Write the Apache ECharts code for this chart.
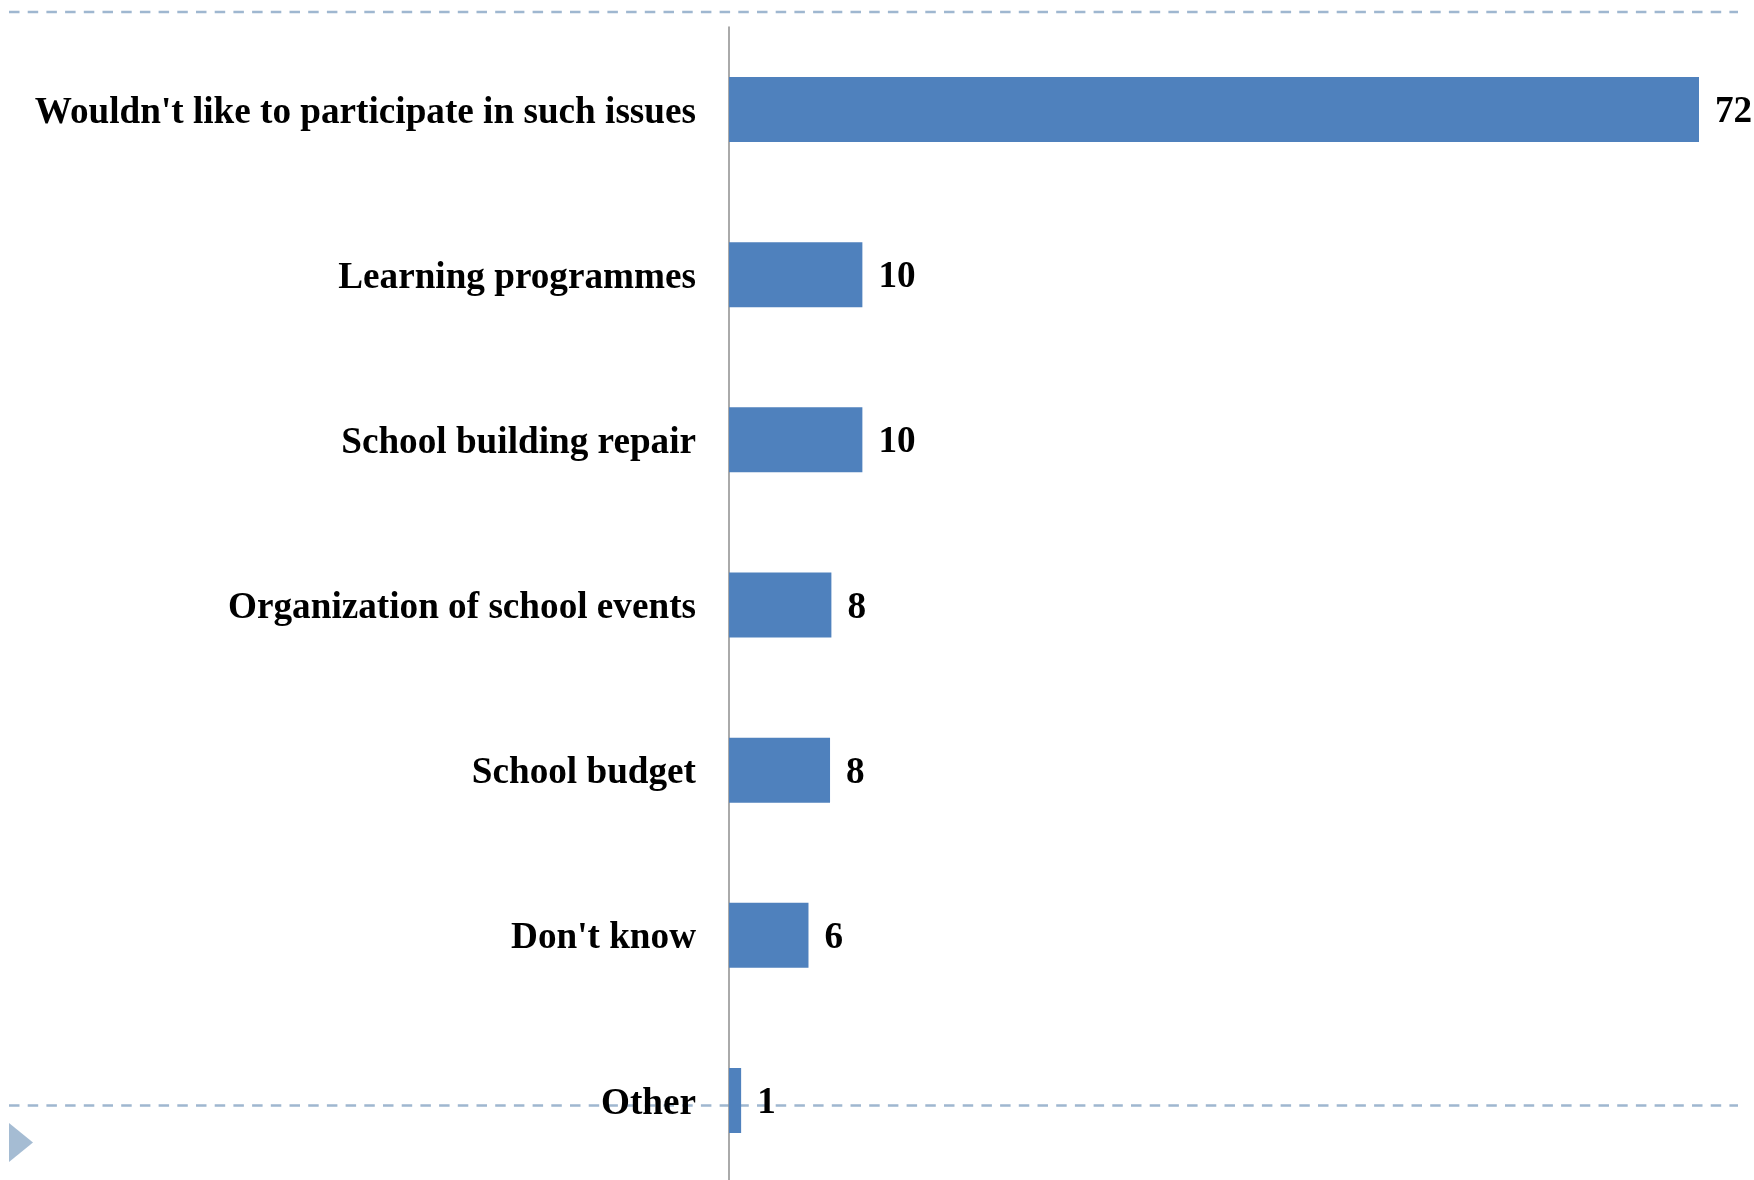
<!DOCTYPE html>
<html>
<head>
<meta charset="utf-8">
<script src="https://cdn.jsdelivr.net/npm/echarts@6/dist/echarts.min.js"></script>
<style>
html,body{margin:0;padding:0;background:#fff;overflow:hidden;}
#chart{width:1754px;height:1184px;}
</style>
</head>
<body>
<div id="chart"></div>
<script>
var categories = [
  "Wouldn't like to participate in such issues",
  "Learning programmes",
  "School building repair",
  "Organization of school events",
  "School budget",
  "Don't know",
  "Other"
];
var values = [72.0, 9.9, 9.9, 7.6, 7.5, 5.9, 0.9];

var chart = echarts.init(document.getElementById('chart'), null, {renderer: 'canvas'});
var font = "'Liberation Serif', 'Times New Roman', serif";
var deco = '#9FB7D0';

chart.setOption({
  animation: false,
  backgroundColor: '#ffffff',
  grid: {left: 729, right: 55, top: 27, bottom: 1, containLabel: false},
  xAxis: {
    type: 'value', min: 0, max: 72,
    show: false,
    splitLine: {show: false}
  },
  yAxis: {
    type: 'category',
    data: categories,
    inverse: true,
    axisLine: {show: true, lineStyle: {color: '#8E8E8E', width: 1.5}},
    axisTick: {show: false},
    axisLabel: {
      margin: 33,
      formatter: function (v) { return '{a|' + v + '}'; },
      rich: {
        a: {
          color: '#000',
          fontFamily: font,
          fontWeight: 'bold',
          fontSize: 37.2,
          padding: [7, 0, 0, 0]
        }
      }
    }
  },
  series: [{
    type: 'bar',
    data: values,
    barWidth: 65,
    itemStyle: {color: '#4F81BD'},
    label: {
      show: true,
      position: 'right',
      distance: 16,
      offset: [0, 3],
      color: '#000',
      fontFamily: font,
      fontWeight: 'bold',
      fontSize: 37.2,
      formatter: function (p) { return Math.round(p.value); }
    },
    z: 3
  }],
  graphic: [
    {type: 'line', z: 0, shape: {x1: 9, y1: 12, x2: 1738, y2: 12},
     style: {stroke: deco, lineWidth: 2.6, lineDash: [10.5, 8.2]}},
    {type: 'line', z: 0, shape: {x1: 9, y1: 1105.5, x2: 1738, y2: 1105.5},
     style: {stroke: deco, lineWidth: 2.6, lineDash: [10.5, 8.2]}},
    {type: 'polygon', z: 0, shape: {points: [[9, 1123], [33, 1142.5], [9, 1162]]},
     style: {fill: '#A5BCD3'}}
  ]
});
</script>
</body>
</html>
